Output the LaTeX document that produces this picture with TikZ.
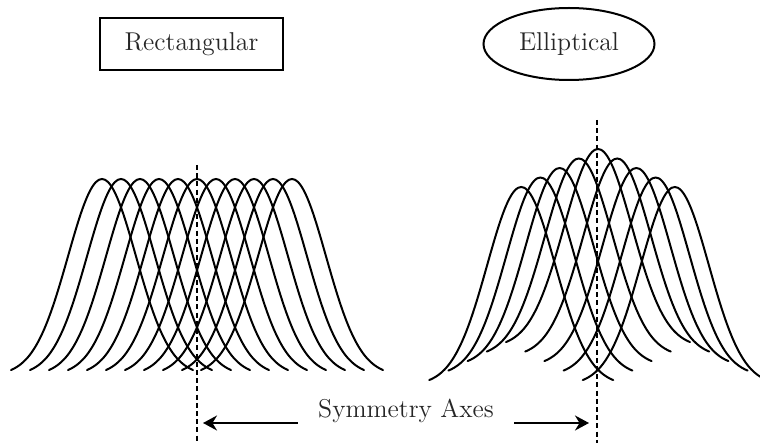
\documentclass[tikz,border=0pt]{standalone}
\usepackage{amsmath}
\usepackage{tikz}
\usetikzlibrary{shapes.geometric,arrows.meta}

\begin{document}
\begin{tikzpicture}[x=0.5pt,y=-0.5pt,
    lbl/.style={font=\fontsize{12.9}{15}\selectfont, text=black!85},
    curve/.style={line width=1pt, line cap=round},
    symaxis/.style={line width=0.65pt, dash pattern=on 2.5pt off 1.6pt},
    arr/.style={line width=1pt, -{Stealth[length=7pt,width=7.5pt]}}]
    \useasboundingbox (0,0) rectangle (760,443);

    % Labels
    \node[lbl, draw, line width=1pt, minimum width=91.5pt, minimum height=26pt] (rect) at (191.5,44) {Rectangular};
    \node[lbl, draw, ellipse, line width=1pt, minimum width=85.5pt, minimum height=36pt, inner sep=0pt] (ell) at (569,44) {Elliptical};

    % Rectangular array: equal beams
    \foreach \i in {-5,...,5} {
        \pgfmathsetmacro{\c}{197+19*\i}
        \draw[curve] plot[domain=-91:91, samples=61, smooth] ({\c+\x}, {370-191*(exp(-(\x/34)^2/2)-0.028)/0.972});
    }

    % Elliptical array: beams raised towards the centre
    \foreach \i in {-4,...,4} {
        \pgfmathsetmacro{\c}{598+19.2*\i}
        \pgfmathsetmacro{\b}{342+9.5*abs(\i)}
        \draw[curve] plot[domain=-92:92, samples=61, smooth] ({\c+\x}, {\b-193*(exp(-(\x/34)^2/2)-0.026)/0.974});
    }

    % Symmetry axes
    \coordinate (topL) at (197,165);
    \coordinate (botL) at (197,443);
    \coordinate (topR) at (597,120);
    \coordinate (botR) at (597,443);
    \draw[symaxis] (topL) -- (botL);
    \draw[symaxis] (topR) -- (botR);

    % Annotations
    \node[lbl, inner xsep=10pt] (axes) at (406,411) {Symmetry Axes};
    \coordinate (axL) at (203,423);
    \coordinate (axR) at (589,423);
    \draw[arr] (axes.west |- axL) -- (axL);
    \draw[arr] (axes.east |- axR) -- (axR);
\end{tikzpicture}
\end{document}
